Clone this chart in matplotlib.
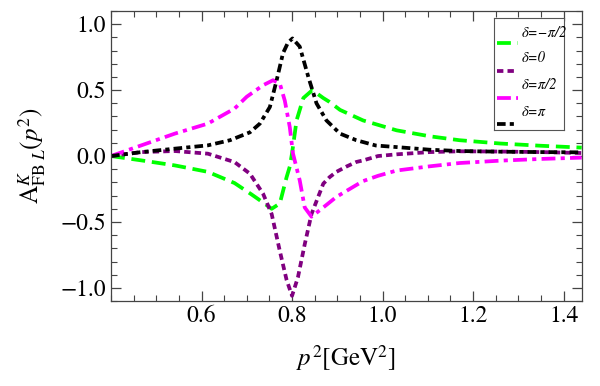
import numpy as np
import matplotlib
matplotlib.use("Agg")
import matplotlib.pyplot as plt
from matplotlib.ticker import MultipleLocator

plt.rcParams['font.family'] = ['STIXGeneral', 'DejaVu Serif']
plt.rcParams['mathtext.fontset'] = 'stix'

# curves, x in GeV^2
x_m = [0.40, 0.467, 0.541, 0.614, 0.673, 0.71, 0.735, 0.755, 0.773, 0.788, 0.795,
       0.80, 0.81, 0.825, 0.845, 0.869, 0.883, 0.906, 0.957, 1.031, 1.104, 1.17,
       1.26, 1.35, 1.44]
y_m = [0.0, -0.033, -0.071, -0.12, -0.205, -0.29, -0.35, -0.40, -0.36, -0.16, -0.08,
       0.02, 0.27, 0.44, 0.50, 0.44, 0.41, 0.35, 0.27, 0.195, 0.15, 0.12,
       0.095, 0.078, 0.064]

x_0 = [0.40, 0.467, 0.541, 0.614, 0.673, 0.707, 0.736, 0.755, 0.773, 0.788, 0.80,
       0.813, 0.828, 0.843, 0.869, 0.883, 0.898, 0.92, 0.942, 0.957, 0.99, 1.031,
       1.104, 1.17, 1.26, 1.35, 1.44]
y_0 = [0.0, 0.03, 0.038, 0.018, -0.046, -0.134, -0.286, -0.44, -0.72, -0.94, -1.06,
       -0.92, -0.67, -0.44, -0.21, -0.16, -0.12, -0.08, -0.045, -0.033, 0.0, 0.013,
       0.03, 0.036, 0.034, 0.03, 0.023]

x_p = [0.40, 0.467, 0.541, 0.614, 0.673, 0.70, 0.736, 0.758, 0.773, 0.784, 0.795,
       0.802, 0.817, 0.828, 0.843, 0.869, 0.898, 0.942, 0.957, 0.99, 1.031, 1.104,
       1.17, 1.26, 1.35, 1.44]
y_p = [0.0, 0.081, 0.17, 0.246, 0.36, 0.45, 0.537, 0.575, 0.55, 0.42, 0.22,
       0.02, -0.185, -0.39, -0.46, -0.39, -0.31, -0.22, -0.19, -0.15, -0.11, -0.078,
       -0.053, -0.035, -0.022, -0.012]

x_pi = [0.40, 0.467, 0.541, 0.614, 0.663, 0.707, 0.729, 0.751, 0.766, 0.78, 0.791,
        0.801, 0.817, 0.836, 0.854, 0.876, 0.906, 0.942, 0.985, 1.031, 1.104, 1.17,
        1.26, 1.35, 1.44]
y_pi = [0.0, 0.03, 0.056, 0.081, 0.12, 0.18, 0.246, 0.372, 0.575, 0.78, 0.86,
        0.892, 0.83, 0.60, 0.40, 0.27, 0.17, 0.12, 0.08, 0.068, 0.048, 0.038,
        0.033, 0.030, 0.028]

labels = [u"\u03b4=\u2212\u03c0/2", u"\u03b4=0", u"\u03b4=\u03c0/2", u"\u03b4=\u03c0"]
colors = ['#00ff00', '#800080', '#ff00ff', 'black']
styles = [(0, (3.7, 1.8)), (0, (1.7, 1.1)), (0, (3.7, 1.4, 1.1, 1.4)),
          (0, (2.3, 1.1, 1.1, 1.1))]
series = [(x_m, y_m), (x_0, y_0), (x_p, y_p), (x_pi, y_pi)]
xticks = [0.6, 0.8, 1.0, 1.2, 1.4]

fig = plt.figure(figsize=(6, 3.86), dpi=100)
ax = fig.add_axes([0.185, 0.22, 0.7845, 0.7515])

for (xs, ys), c, ls in zip(series, colors, styles):
    ax.plot(xs, ys, color=c, lw=2.7, ls=ls)

ax.set_xlim(0.4, 1.44)
ax.set_ylim(-1.1, 1.1)
ax.set_xticks(xticks)
ax.xaxis.set_minor_locator(MultipleLocator(0.05))
ax.yaxis.set_major_locator(MultipleLocator(0.5))
ax.yaxis.set_minor_locator(MultipleLocator(0.1))
ax.tick_params(which='both', direction='in', top=True, right=True,
               color='#444444', labelsize=17)
ax.tick_params(which='major', length=7, width=0.9)
ax.tick_params(which='minor', length=4, width=0.8)
fmt = plt.FuncFormatter(lambda v, p: f"{v:.1f}".replace('-', u'\u2212'))
ax.xaxis.set_major_formatter(fmt)
ax.yaxis.set_major_formatter(fmt)
for s in ax.spines.values():
    s.set_color('#444444')
    s.set_linewidth(0.9)

ax.set_xlabel(r"$p^2[\mathrm{GeV}^2]$", fontsize=18, labelpad=11)
ax.set_ylabel(r"$\mathrm{A}^{K}_{\mathrm{FB}\ L}(p^2)$", fontsize=18, labelpad=9)

# legend box, Mathematica style (label above each line sample)
lg = fig.add_axes([0.823, 0.663, 0.117, 0.29])
lg.set_xlim(0, 1)
lg.set_ylim(0, 1)
lg.set_xticks([])
lg.set_yticks([])
for s in lg.spines.values():
    s.set_color('#555555')
    s.set_linewidth(0.8)
text_y = [0.869, 0.643, 0.402, 0.161]
line_y = [0.777, 0.527, 0.286, 0.054]
for lab, c, ls, ty, ly in zip(labels, colors, styles, text_y, line_y):
    lg.plot([0.05, 0.34], [ly, ly], color=c, lw=2.7, ls=ls)
    lg.text(0.40, ty, lab, fontsize=10.5, style='italic', va='center', ha='left')

fig.savefig("out.png", dpi=100)
